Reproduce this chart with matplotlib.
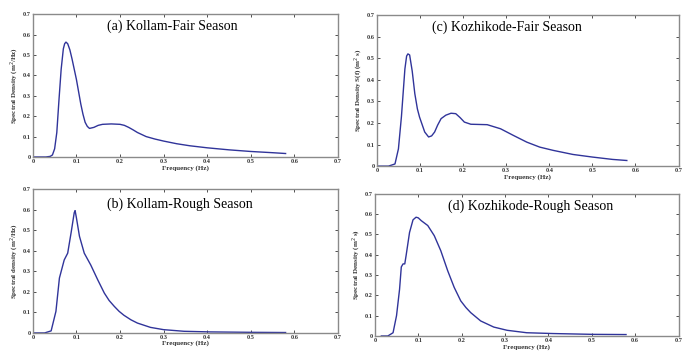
import matplotlib

matplotlib.use("Agg")
import matplotlib.pyplot as plt

# (a) Kollam - fair season
f_a = [0, 0.03, 0.04, 0.045, 0.05, 0.055, 0.06, 0.065, 0.07, 0.073, 0.076, 0.08, 0.085,
       0.09, 0.095, 0.1, 0.105, 0.11, 0.115, 0.12, 0.125, 0.13, 0.14, 0.15, 0.16, 0.18,
       0.2, 0.21, 0.22, 0.23, 0.24, 0.26, 0.28, 0.3, 0.33, 0.36, 0.4, 0.45, 0.5, 0.55,
       0.58]
s_a = [0, 0, 0.003, 0.01, 0.04, 0.12, 0.28, 0.43, 0.53, 0.555, 0.563, 0.555, 0.525,
       0.48, 0.43, 0.38, 0.32, 0.26, 0.21, 0.17, 0.15, 0.14, 0.145, 0.155, 0.16, 0.162,
       0.16, 0.155, 0.145, 0.133, 0.12, 0.10, 0.088, 0.078, 0.065, 0.055, 0.045, 0.035,
       0.027, 0.021, 0.017]

# (b) Kollam - rough season
f_b = [0, 0.027, 0.042, 0.053, 0.061, 0.072, 0.08, 0.088, 0.095, 0.097, 0.1, 0.107,
       0.118, 0.133, 0.149, 0.164, 0.175, 0.187, 0.198, 0.209, 0.225, 0.24, 0.27, 0.3,
       0.347, 0.407, 0.5, 0.58]
s_b = [0, 0, 0.01, 0.105, 0.267, 0.355, 0.388, 0.49, 0.585, 0.595, 0.56, 0.47,
       0.388, 0.33, 0.258, 0.194, 0.158, 0.129, 0.105, 0.086, 0.064, 0.048, 0.027, 0.016,
       0.008, 0.005, 0.003, 0.002]

# (c) Kozhikode - fair season
f_c = [0, 0.027, 0.042, 0.05, 0.057, 0.065, 0.069, 0.072, 0.076, 0.082, 0.088, 0.094,
       0.099, 0.111, 0.12, 0.127, 0.134, 0.141, 0.149, 0.16, 0.172, 0.183, 0.193, 0.203,
       0.218, 0.256, 0.287, 0.317, 0.348, 0.378, 0.409, 0.455, 0.5, 0.547, 0.58]
s_c = [0, 0, 0.01, 0.08, 0.23, 0.45, 0.51, 0.52, 0.515, 0.44, 0.336, 0.265,
       0.227, 0.158, 0.135, 0.14, 0.158, 0.19, 0.22, 0.236, 0.245, 0.243, 0.225, 0.204,
       0.194, 0.192, 0.173, 0.142, 0.111, 0.088, 0.073, 0.054, 0.042, 0.031, 0.026]

# (d) Kozhikode - rough season
f_d = [0.015, 0.03, 0.042, 0.05, 0.057, 0.061, 0.065, 0.069, 0.072, 0.08, 0.088, 0.095,
       0.1, 0.107, 0.122, 0.137, 0.152, 0.168, 0.183, 0.198, 0.21, 0.221, 0.244, 0.274,
       0.305, 0.35, 0.411, 0.503, 0.579]
s_d = [0, 0, 0.016, 0.1, 0.23, 0.34, 0.355, 0.355, 0.395, 0.51, 0.572, 0.585,
       0.582, 0.568, 0.544, 0.494, 0.42, 0.321, 0.239, 0.173, 0.14, 0.115, 0.074, 0.044,
       0.028, 0.016, 0.012, 0.008, 0.007]

titulos = ["(a) Kollam-Fair Season", "(b) Kollam-Rough Season",
           "(c) Kozhikode-Fair Season", "(d) Kozhikode-Rough Season"]
ylabels = ["Spectral Density (m$^2$/Hz)", "Spectral density (m$^2$/Hz)",
           "Spectral Density S(f) (m$^2$ s)", "Spectral Density (m$^2$ s)"]
ticks = [0, 0.1, 0.2, 0.3, 0.4, 0.5, 0.6, 0.7]

plt.rcParams["font.family"] = ["Liberation Serif", "DejaVu Serif"]

fig = plt.figure(figsize=(6.84, 3.58), dpi=100)
posiciones = [(0.048, 0.5615, 0.446, 0.399), (0.048, 0.070, 0.446, 0.402),
              (0.551, 0.536, 0.441, 0.422), (0.548, 0.0615, 0.444, 0.397)]
series = [(f_a, s_a), (f_b, s_b), (f_c, s_c), (f_d, s_d)]
texto_pos = [(0.456, 0.915), (0.483, 0.895), (0.43, 0.92), (0.513, 0.915)]

for pos, (f, s), tit, yl, tp in zip(posiciones, series, titulos, ylabels, texto_pos):
    ax = fig.add_axes(pos)
    ax.plot(f, s, color="#30349a", lw=1.0)
    ax.set_xlim(0, 0.7)
    ax.set_ylim(0, 0.7)
    ax.set_xticks(ticks, [f"{t:g}" for t in ticks])
    ax.set_yticks(ticks, [f"{t:g}" for t in ticks])
    ax.tick_params(direction="in", length=2, width=0.6, labelsize=4.5, pad=1.5,
                   top=True, right=True, colors="#333333")
    for lab in ax.get_xticklabels() + ax.get_yticklabels():
        lab.set_fontweight("bold")
    for sp in ax.spines.values():
        sp.set_color("#8a8a8a")
        sp.set_linewidth(1.0)
    ax.set_xlabel("Frequency (Hz)", fontsize=5, fontweight="bold", labelpad=0.5,
                  color="#333333")
    ax.set_ylabel(yl, fontsize=5, fontweight="bold", labelpad=1.5, color="#333333")
    ax.text(tp[0], tp[1], tit, transform=ax.transAxes, ha="center", va="center",
            fontsize=10)

fig.savefig("out.png", dpi=100)
